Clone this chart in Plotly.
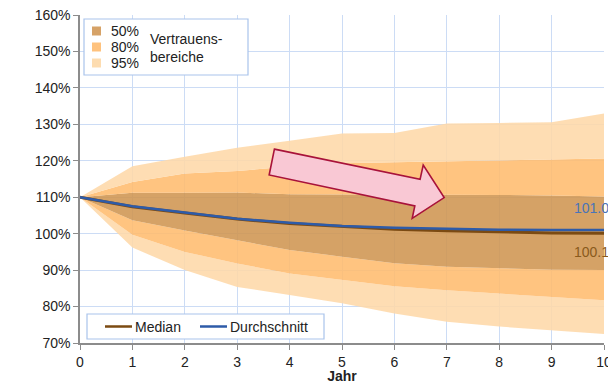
import plotly.graph_objects as go

# Simulated development over 10 years (values in %)
jahr = [0, 1, 2, 3, 4, 5, 6, 7, 8, 9, 10]
median = [110, 107.4, 105.7, 104.0, 102.8, 101.9, 101.2, 100.8, 100.4, 100.2, 100.1]
durchschnitt = [110, 107.5, 105.8, 104.1, 103.0, 102.1, 101.6, 101.3, 101.1, 101.0, 101.0]
upper50 = [110, 111.2, 111.2, 111.3, 110.8, 110.8, 110.8, 110.7, 110.6, 110.5, 110.2]
lower50 = [110, 103.7, 100.9, 98.2, 95.5, 93.7, 91.9, 90.9, 90.5, 90.1, 90.0]
upper80 = [110, 114.2, 116.5, 117.2, 118.4, 119.3, 119.6, 119.9, 120.2, 120.3, 120.6]
lower80 = [110, 99.7, 95.0, 91.8, 89.1, 87.3, 85.6, 84.5, 83.6, 82.7, 81.7]
upper95 = [110, 118.5, 121.1, 123.6, 125.5, 127.5, 127.6, 130.2, 130.4, 130.6, 133.0]
lower95 = [110, 96.2, 90.0, 85.4, 83.2, 80.9, 78.1, 75.8, 74.5, 73.6, 72.5]

y_ticks = [70, 80, 90, 100, 110, 120, 130, 140, 150, 160]
y_labels = [f"{v}%" for v in y_ticks]

# Trend arrow outline (data coordinates)
arrow_x = [3.71, 6.49, 6.55, 6.95, 6.34, 6.39, 3.61]
arrow_y = [123.2, 114.9, 118.8, 109.9, 104.2, 107.6, 116.1]

C95 = "rgba(254,216,169,0.88)"
C80 = "rgba(255,188,110,0.88)"
C50 = "rgba(207,149,81,0.88)"
C_MED = "#7B4A12"
C_AVG = "#2E5BA8"
FONT = "Liberation Sans, Arial, sans-serif"

W, H = 608, 384
L, R, T, B = 80, 604, 15, 343


def px(x):
    return (x - L) / (R - L)


def py(y):
    return (B - y) / (B - T)


fig = go.Figure()

# Confidence bands, stacked from bottom to top without overlap
band_layers = [
    (lower95, None),
    (lower80, C95),
    (lower50, C80),
    (upper50, C50),
    (upper80, C80),
    (upper95, C95),
]
for vals, col in band_layers:
    fig.add_trace(go.Scatter(
        x=jahr, y=vals, mode="lines", line=dict(width=0),
        fill="tonexty" if col else None, fillcolor=col,
        hoverinfo="skip", showlegend=False,
    ))

fig.add_trace(go.Scatter(x=jahr, y=median, mode="lines",
                         line=dict(color=C_MED, width=3), showlegend=False))
fig.add_trace(go.Scatter(x=jahr, y=durchschnitt, mode="lines",
                         line=dict(color=C_AVG, width=2.5), showlegend=False))

shapes = []
# Arrow
path = "M " + " L ".join(f"{x},{y}" for x, y in zip(arrow_x, arrow_y)) + " Z"
shapes.append(dict(type="path", xref="x", yref="y", path=path,
                   fillcolor="#F9C8D4", line=dict(color="#A8123A", width=1.6),
                   layer="above"))

# Legend box: confidence bands
shapes.append(dict(type="rect", xref="paper", yref="paper",
                   x0=px(84), x1=px(248), y0=py(75), y1=py(19),
                   fillcolor="white", line=dict(color="#A9C4EB", width=1.2),
                   layer="above"))
band_legend = [("50%", "#D6A267", 31), ("80%", "#FEC27E", 47), ("95%", "#FDDCB0", 63)]
annotations = []
for label, col, yc in band_legend:
    shapes.append(dict(type="rect", xref="paper", yref="paper",
                       x0=px(92), x1=px(101), y0=py(yc + 4.5), y1=py(yc - 4.5),
                       fillcolor=col, line=dict(width=0), layer="above"))
    annotations.append(dict(x=px(109), y=py(yc), xref="paper", yref="paper",
                            text=label, showarrow=False, xanchor="left",
                            yanchor="middle", font=dict(size=14, color="#222")))
annotations.append(dict(x=px(148), y=py(48), xref="paper", yref="paper",
                        text="Vertrauens-<br>bereiche", showarrow=False,
                        xanchor="left", yanchor="middle", align="left",
                        font=dict(size=14, color="#222")))

# Legend box: lines
shapes.append(dict(type="rect", xref="paper", yref="paper",
                   x0=px(87), x1=px(324), y0=py(339), y1=py(314),
                   fillcolor="white", line=dict(color="#A9C4EB", width=1.2),
                   layer="above"))
for x0, x1, col, label in [(105, 132, C_MED, "Median"), (200, 227, C_AVG, "Durchschnitt")]:
    shapes.append(dict(type="line", xref="paper", yref="paper",
                       x0=px(x0), x1=px(x1), y0=py(326.5), y1=py(326.5),
                       line=dict(color=col, width=2.5), layer="above"))
    annotations.append(dict(x=px(x1 + 1), y=py(326.5), xref="paper", yref="paper",
                            text=label, showarrow=False, xanchor="left",
                            yanchor="middle", font=dict(size=14, color="#222")))

# End-value labels
annotations.append(dict(x=9.39, y=durchschnitt[-1] + 6.0, xref="x", yref="y",
                        text=f"{durchschnitt[-1]:.1f}", showarrow=False,
                        xanchor="left", yanchor="middle",
                        font=dict(size=14, color="#4A74B8")))
annotations.append(dict(x=9.39, y=median[-1] - 5.1, xref="x", yref="y",
                        text=f"{median[-1]:.1f}", showarrow=False,
                        xanchor="left", yanchor="middle",
                        font=dict(size=14, color="#8A5A1C")))

fig.update_layout(
    width=W, height=H,
    margin=dict(l=L, r=W - R, t=T, b=H - B, autoexpand=False),
    paper_bgcolor="white", plot_bgcolor="white",
    font=dict(family=FONT, size=14, color="#222"),
    shapes=shapes, annotations=annotations, showlegend=False,
)
fig.update_xaxes(
    range=[0, 10], tickmode="array", tickvals=jahr, ticktext=[str(v) for v in jahr],
    showgrid=True, gridcolor="#CCDCF5", gridwidth=1,
    showline=True, linecolor="#8C8C8C", linewidth=1.5,
    ticks="outside", ticklen=5, tickcolor="#8C8C8C",
    tickfont=dict(size=14, color="#222"), ticklabeloverflow="allow",
    automargin=False,
    title=dict(text="<b>Jahr</b>", font=dict(size=14, color="#222"), standoff=2),
    zeroline=False, fixedrange=True,
)
fig.update_yaxes(
    range=[70, 160], tickmode="array", tickvals=y_ticks, ticktext=y_labels,
    showgrid=True, gridcolor="#CCDCF5", gridwidth=1,
    showline=True, linecolor="#8C8C8C", linewidth=1.5,
    ticks="outside", ticklen=5, tickcolor="#8C8C8C",
    tickfont=dict(size=14, color="#222"), automargin=False,
    zeroline=False, fixedrange=True,
)

fig.write_html("out.html", config={"displayModeBar": False})
